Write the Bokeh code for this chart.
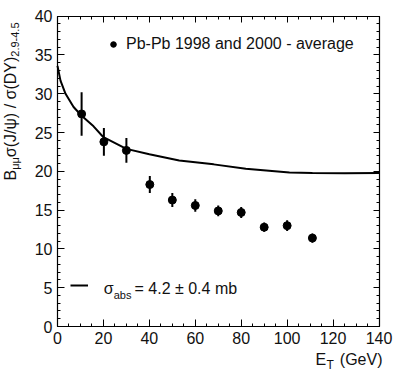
import math
from bokeh.plotting import figure
from bokeh.models import (Range1d, LinearAxis, FixedTicker, Label,
                          ColumnDataSource, CustomJSTickFormatter, Legend, LegendItem)
from bokeh.embed import file_html
from bokeh.resources import INLINE

# ---------------- data ----------------
et_points = [10.5, 20.2, 30.0, 40.2, 50.0, 60.0, 70.0, 80.0, 90.0, 100.0, 111.0]
ratio_points = [27.4, 23.8, 22.7, 18.3, 16.3, 15.6, 14.9, 14.7, 12.8, 13.0, 11.4]
ratio_errors = [2.8, 1.8, 1.6, 1.1, 0.9, 0.8, 0.7, 0.7, 0.6, 0.7, 0.6]

curve_et = [0, 1.3, 3.5, 7, 10.4, 15.7, 20, 30, 40, 53, 62, 68, 82, 101, 111, 125, 140]
curve_ratio = [33.6, 31.7, 30.0, 28.3, 27.2, 25.8, 24.4, 22.9, 22.2, 21.4, 21.1, 20.9,
               20.35, 19.85, 19.78, 19.75, 19.8]

x_major_ticks = [0, 20, 40, 60, 80, 100, 120, 140]
x_minor_ticks = list(range(0, 141, 5))
y_major_ticks = [0, 5, 10, 15, 20, 25, 30, 35, 40]
y_minor_ticks = list(range(0, 41, 1))

data_label = "Pb-Pb 1998 and 2000 - average"
model_label_main = "σ"
model_label_sub = "abs"
model_label_rest = "= 4.2 ± 0.4 mb"

x_lim = (0, 140)
y_lim = (0, 40)

FONT = "Liberation Sans"
TXT = "#111111"

# ---------------- layout (plot box in page pixels) ----------------
W, H = 399, 374
BOX_L, BOX_R, BOX_T, BOX_B = 57.0, 378.5, 15.7, 326.0
XSC = (BOX_R - BOX_L) / (x_lim[1] - x_lim[0])
YSC = (BOX_B - BOX_T) / (y_lim[1] - y_lim[0])

def px_x(px):
    return x_lim[0] + (px - BOX_L) / XSC

def px_y(py):
    return y_lim[0] + (BOX_B - py) / YSC

p = figure(width=W, height=H,
           x_range=Range1d(px_x(0), px_x(W)), y_range=Range1d(px_y(H), px_y(0)),
           output_backend="svg", toolbar_location=None,
           min_border_left=0, min_border_right=0, min_border_top=0, min_border_bottom=0)
p.grid.visible = False
p.outline_line_color = None
p.background_fill_color = "white"
p.border_fill_color = "white"


def style_axis(ax, major, minor, bounds, fixed, labels=True, major_in=7):
    ax.ticker = FixedTicker(ticks=major, minor_ticks=minor)
    ax.bounds = bounds
    ax.fixed_location = fixed
    ax.axis_line_color = "black"
    ax.axis_line_width = 1.2
    ax.major_tick_in = major_in
    ax.major_tick_out = 0
    ax.minor_tick_in = 3
    ax.minor_tick_out = 0
    ax.major_tick_line_color = "black"
    ax.minor_tick_line_color = "black"
    ax.major_label_text_font = FONT
    ax.major_label_text_font_size = "16px"
    ax.major_label_text_color = TXT
    ax.major_label_standoff = 5
    if not labels:
        ax.formatter = CustomJSTickFormatter(code="return ''")
        ax.major_label_standoff = 0
        ax.major_label_text_font_size = "1px"


style_axis(p.xaxis[0], x_major_ticks, x_minor_ticks, x_lim, y_lim[0])
style_axis(p.yaxis[0], y_major_ticks, y_minor_ticks, y_lim, x_lim[0])
top_axis = LinearAxis()
right_axis = LinearAxis()
style_axis(top_axis, x_major_ticks, x_minor_ticks, x_lim, y_lim[1], labels=False, major_in=6)
style_axis(right_axis, y_major_ticks, y_minor_ticks, y_lim, x_lim[1], labels=False, major_in=6)
p.add_layout(top_axis, "above")
p.add_layout(right_axis, "right")

# ---------------- glyphs ----------------
src = ColumnDataSource(dict(
    x=et_points, y=ratio_points,
    lo=[v - e for v, e in zip(ratio_points, ratio_errors)],
    hi=[v + e for v, e in zip(ratio_points, ratio_errors)],
))
curve = p.line(curve_et, curve_ratio, line_color="black", line_width=2)
p.segment(x0="x", y0="lo", x1="x", y1="hi", source=src, line_color="black", line_width=2)
pts = p.scatter("x", "y", source=src, size=8, color="black")

# ---------------- legends ----------------
leg_top = Legend(items=[LegendItem(label=data_label, renderers=[pts])],
                 location=(106, H - (41.8 + 11.5)))
leg_bot = Legend(items=[LegendItem(label=" ", renderers=[curve])],
                 location=(70, H - (287.7 + 6)))
for lg, gw in ((leg_top, 14), (leg_bot, 18)):
    lg.padding = 0
    lg.margin = 0
    lg.spacing = 0
    lg.border_line_color = None
    lg.background_fill_alpha = 0
    lg.glyph_width = gw
    lg.glyph_height = 18
    lg.label_standoff = 6
    lg.label_text_font = FONT
    lg.label_text_font_size = "16px"
    lg.label_text_color = TXT
    lg.label_height = 18
    p.add_layout(lg)

# empirical correction: rendered glyphs sit this fraction of the size below the anchor
SHIFT = 0.356

def add_text(txt, bx, by, size, angle=0.0):
    """bx, by: desired baseline start in page pixels."""
    if angle:
        bx -= SHIFT * size
    else:
        by -= SHIFT * size
    p.add_layout(Label(x=px_x(bx), y=px_y(by), text=txt, text_font=FONT,
                       text_font_size=f"{size}px", text_color=TXT, text_align="left",
                       text_baseline="alphabetic", angle=angle))

ADV = {" ": .278, "(": .333, ")": .333, "/": .278, ".": .278, "-": .333, "=": .584,
       "±": .549, "B": .667, "D": .722, "E": .667, "G": .778, "J": .5, "T": .611,
       "V": .667, "Y": .667, "a": .556, "b": .556, "e": .556, "m": .833, "s": .5,
       "μ": .576, "σ": .617, "ψ": .713}

def width(txt, size):
    return sum(ADV.get(c, .556) for c in txt) * size

# legend text for the model curve
sx = 103.3
add_text(model_label_main, sx, 293.5, 16)
sx += width(model_label_main, 16)
add_text(model_label_sub, sx, 298.5, 11)
add_text(model_label_rest, 134, 293.5, 16)

# x-axis title: E_T (GeV)
add_text("E", 315, 365, 16)
add_text("T", 315 + width("E", 16) + 0.3, 369, 12)
add_text("(GeV)", 339.3, 365, 16)

# y-axis title (rotated)
pieces = [("B", 16), ("μμ", 11), ("σ(J/ψ) / σ(DY)", 16), ("2.9-4.5", 11)]
total = sum(width(t, s) for t, s in pieces)
sy = 101 + total / 2
for t, s in pieces:
    bx = 15.7 if s == 16 else 18.8
    add_text(t, bx, sy, s, angle=math.pi / 2)
    sy -= width(t, s)

open("out.html", "w").write(file_html(p, INLINE))
